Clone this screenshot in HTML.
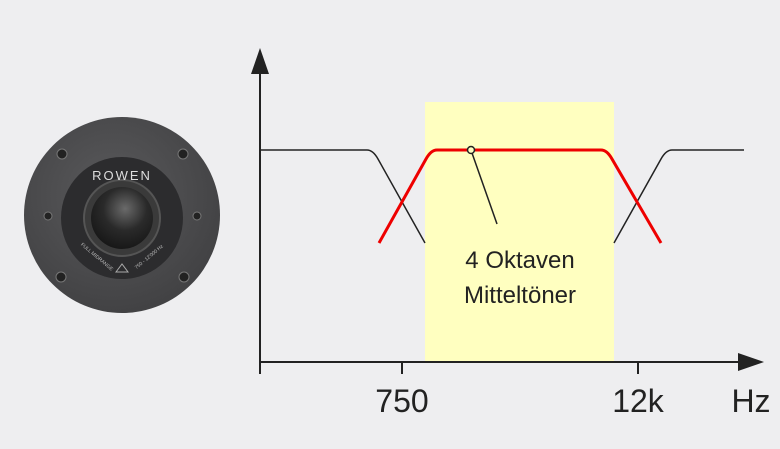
<!DOCTYPE html>
<html><head><style>
html,body{margin:0;padding:0;background:#eeeef0;}
</style></head><body>
<svg width="780" height="449" viewBox="0 0 780 449" xmlns="http://www.w3.org/2000/svg" style="display:block">
<defs>
<radialGradient id="outer" cx="0.45" cy="0.4" r="0.7">
<stop offset="0" stop-color="#5a5a5c"/><stop offset="1" stop-color="#3e3e40"/></radialGradient>
<radialGradient id="dome" cx="0.55" cy="0.35" r="0.7">
<stop offset="0" stop-color="#6a6a6a"/><stop offset="0.5" stop-color="#2a2a2a"/><stop offset="1" stop-color="#151515"/></radialGradient>
</defs>
<rect width="780" height="449" fill="#eeeef0"/>
<circle cx="122" cy="215" r="98" fill="url(#outer)"/>
<circle cx="122" cy="218" r="61" fill="#2c2c2e"/>
<circle cx="122" cy="218" r="38" fill="#3a3a3a" stroke="#555" stroke-width="2"/>
<circle cx="122" cy="218" r="31" fill="url(#dome)"/>
<g fill="#222" stroke="#777" stroke-width="1">
<circle cx="62" cy="154" r="5"/><circle cx="183" cy="154" r="5"/>
<circle cx="61" cy="277" r="5"/><circle cx="184" cy="277" r="5"/>
<circle cx="48" cy="216" r="4"/><circle cx="197" cy="216" r="4"/>
</g>
<text x="122" y="180" font-family="Liberation Sans, sans-serif" font-size="13" fill="#ddd" text-anchor="middle" letter-spacing="2">ROWEN</text>
<text x="96" y="258" font-family="Liberation Sans, sans-serif" font-size="5" fill="#bbb" text-anchor="middle" transform="rotate(40 96 258)">FULL MIDRANGE</text>
<text x="150" y="258" font-family="Liberation Sans, sans-serif" font-size="5" fill="#bbb" text-anchor="middle" transform="rotate(-40 150 258)">750 - 12'000 Hz</text>
<path d="M116 272 l6 -8 l6 8 z" fill="none" stroke="#aaa" stroke-width="1"/>
<rect x="425" y="102" width="189" height="260" fill="#ffffc0"/>
<line x1="260" y1="72" x2="260" y2="374" stroke="#222" stroke-width="2"/>
<polygon points="260,48 251,74 269,74" fill="#222"/>
<line x1="259" y1="362" x2="740" y2="362" stroke="#222" stroke-width="2"/>
<polygon points="764,362 738,353 738,371" fill="#222"/>
<line x1="402" y1="362" x2="402" y2="374" stroke="#222" stroke-width="2"/>
<line x1="638" y1="362" x2="638" y2="374" stroke="#222" stroke-width="2"/>
<path d="M260 150 L367 150 Q373 150 378 159 L425 243" fill="none" stroke="#222" stroke-width="1.5"/>
<path d="M614 243 L661 159 Q666 150 672 150 L744 150" fill="none" stroke="#222" stroke-width="1.5"/>
<path d="M379 243 L426 159 Q431 150 437 150 L601 150 Q607 150 612 159 L661 243" fill="none" stroke="#e00" stroke-width="3"/>
<line x1="472" y1="153" x2="497" y2="224" stroke="#222" stroke-width="1.5"/>
<circle cx="471" cy="150" r="3.5" fill="#ffffc0" stroke="#222" stroke-width="1.5"/>
<g font-family="Liberation Sans, sans-serif" fill="#222" text-anchor="middle">
<text x="520" y="268" font-size="24">4 Oktaven</text>
<text x="520" y="303" font-size="24">Mitteltöner</text>
<text x="402" y="412" font-size="32">750</text>
<text x="638" y="412" font-size="32">12k</text>
<text x="751" y="412" font-size="32">Hz</text>
</g>
</svg>
</body></html>
